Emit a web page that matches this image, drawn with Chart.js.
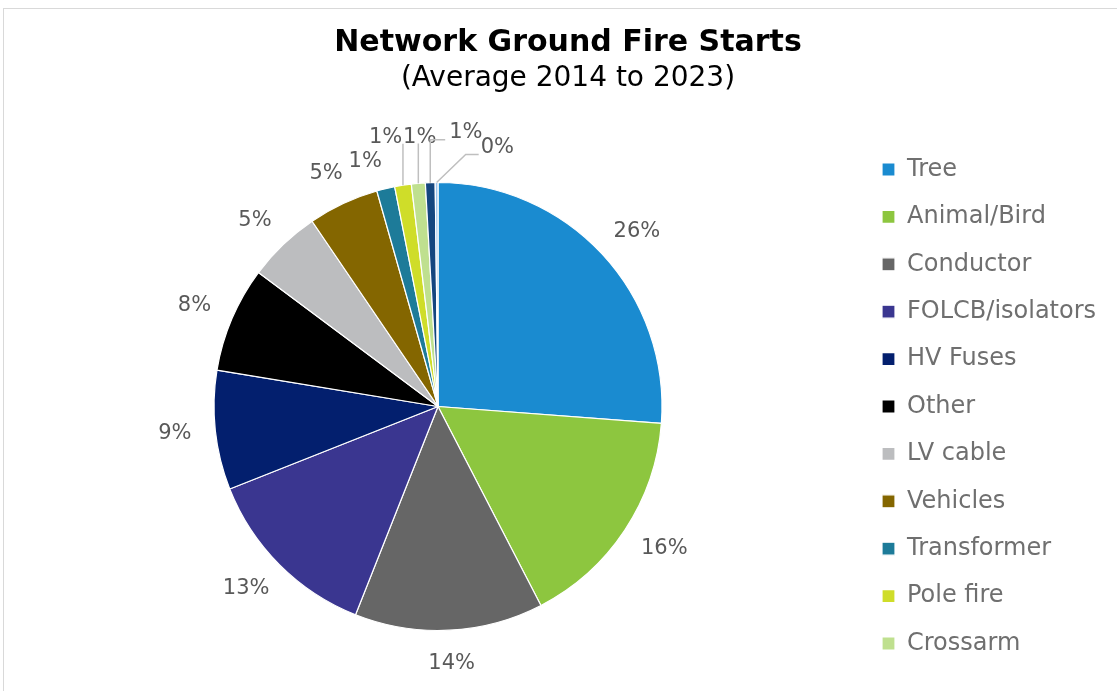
<!DOCTYPE html>
<html>
<head>
<meta charset="utf-8">
<script src="https://cdn.jsdelivr.net/npm/chart.js@4.4.1/dist/chart.umd.min.js"></script>
<style>
  html, body { margin: 0; padding: 0; background: #fff; overflow: hidden; }
  .frame {
    position: absolute; left: 3px; top: 8px;
    width: 1200px; height: 800px;
    border: 1px solid #d9d9d9; background: #fff;
  }
  #fireChart { display: block; }
</style>
</head>
<body>
<div class="frame">
  <canvas id="fireChart" width="1160" height="700" style="width:1160px;height:700px"></canvas>
</div>
<script>
// fire start causes, share of the 2014-2023 average (%)
const causes = ['Tree', 'Animal/Bird', 'Conductor', 'FOLCB/isolators', 'HV Fuses', 'Other',
  'LV cable', 'Vehicles', 'Transformer', 'Pole fire', 'Crossarm', 'Insulator', 'Surge diverter'];
const shares = [26.2, 16.2, 13.6, 13.0, 8.6, 7.6, 5.3, 5.1, 1.3, 1.2, 1.0, 0.7, 0.2];
const colours = ['#1a8bd0', '#8dc63f', '#666666', '#3a3690', '#031f6e', '#000000',
  '#bcbdbf', '#846600', '#1d7b99', '#cfdd29', '#bfe08f', '#14467f', '#9cc4ee'];

const FONT = "'DejaVu Sans', sans-serif";

// the small slices at the top have their labels pushed apart, some with leader lines
const labelNudge = { 8: [-11, 5], 9: [-11, -15], 10: [5, -13], 11: [37, -17], 12: [61, -2] };
const leaders = { 9: 'up', 10: 'up', 11: 'elbow', 12: 'slant' };

const sliceLabels = {
  id: 'sliceLabels',
  afterDatasetsDraw(chart) {
    const ctx = chart.ctx;
    const meta = chart.getDatasetMeta(0);
    const total = shares.reduce((a, b) => a + b, 0);
    const gap = 24, h = 18;
    ctx.save();
    ctx.font = '21px ' + FONT;
    ctx.textAlign = 'center';
    ctx.textBaseline = 'middle';
    meta.data.forEach((arc, i) => {
      const p = arc.getProps(['x', 'y', 'startAngle', 'endAngle', 'outerRadius'], true);
      const mid = (p.startAngle + p.endAngle) / 2;
      const dx = Math.cos(mid), dy = Math.sin(mid);
      const text = Math.round(shares[i] / total * 100) + '%';
      const w = ctx.measureText(text).width;
      const n = labelNudge[i] || [0, 0];
      const lx = p.x + dx * (p.outerRadius + gap) + dx * w / 2 + n[0];
      const ly = p.y + dy * (p.outerRadius + gap) + dy * h / 2 + n[1];

      const style = leaders[i];
      if (style) {
        const ax = p.x + dx * p.outerRadius, ay = p.y + dy * p.outerRadius;
        const left = lx - w / 2;
        let pts;
        if (style === 'up') pts = [[ax, ay], [ax, ly + 6]];
        else if (style === 'elbow') pts = [[ax, ay], [ax, ly + 7], [left - 4, ly + 7]];
        else pts = [[ax, ay], [left - 15, ly + 7], [left - 2, ly + 7]];
        ctx.beginPath();
        ctx.moveTo(pts[0][0], pts[0][1]);
        pts.slice(1).forEach(q => ctx.lineTo(q[0], q[1]));
        ctx.strokeStyle = '#bfbfbf';
        ctx.lineWidth = 1.5;
        ctx.stroke();
      }
      ctx.fillStyle = '#595959';
      ctx.fillText(text, lx, ly);
    });
    ctx.restore();
  }
};

// keep the legend column a fixed width so the title stays centred over the whole frame
const legendWidth = {
  id: 'legendWidth',
  beforeInit(chart) {
    const fit = chart.legend.fit;
    chart.legend.fit = function () {
      fit.call(this);
      this.width = 260;
    };
  }
};

new Chart(document.getElementById('fireChart'), {
  type: 'pie',
  data: {
    labels: causes,
    datasets: [{
      data: shares,
      backgroundColor: colours,
      borderColor: '#ffffff',
      borderWidth: 1.2,
      radius: 224
    }]
  },
  options: {
    responsive: false,
    animation: false,
    layout: { padding: { left: 13.4, right: 45.4, top: 0, bottom: 20 } },
    plugins: {
      title: {
        display: true,
        text: 'Network Ground Fire Starts',
        color: '#000',
        font: { family: FONT, size: 30, weight: 'bold' },
        padding: { top: 16, bottom: 0 }
      },
      subtitle: {
        display: true,
        text: '(Average 2014 to 2023)',
        color: '#000',
        font: { family: FONT, size: 28 },
        padding: { top: 1.2, bottom: 28.2 }
      },
      legend: {
        position: 'right',
        fullSize: false,
        labels: {
          color: '#6f6f6f',
          font: { family: FONT, size: 24 },
          boxWidth: 13,
          boxHeight: 13,
          padding: 23.4,
          filter: item => item.index < 11
        }
      },
      tooltip: { enabled: false }
    }
  },
  plugins: [sliceLabels, legendWidth]
});
</script>
</body>
</html>
